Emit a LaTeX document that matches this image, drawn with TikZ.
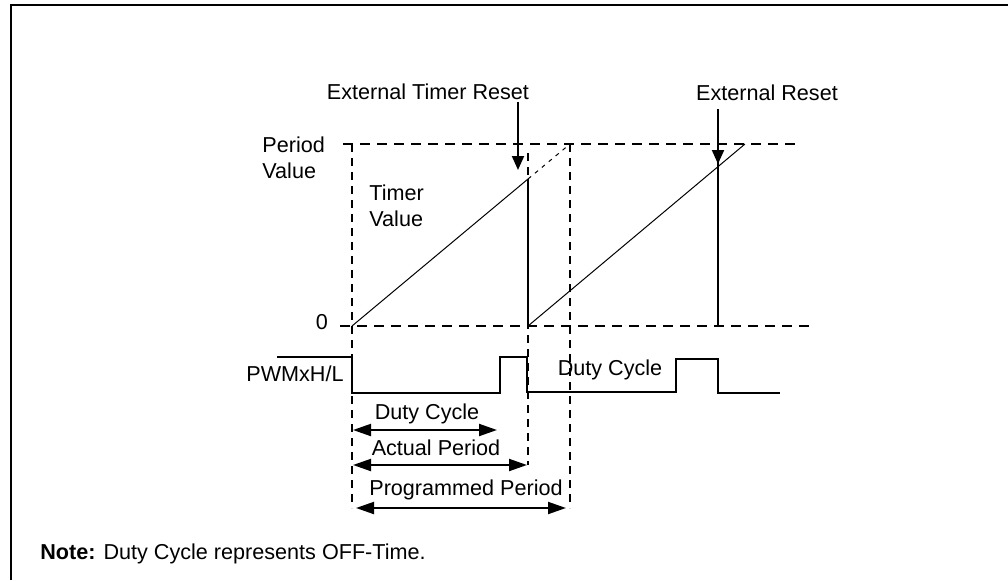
\documentclass[tikz,border=0pt]{standalone}
\usepackage{fontspec}
\setmainfont{Liberation Sans}
\usetikzlibrary{arrows.meta}

\begin{document}
\begin{tikzpicture}[x=0.5pt, y=-0.5pt,
  lbl/.style={inner sep=0pt, font=\fontsize{10.8}{13.2}\selectfont, align=left},
  levelline/.style={line width=1pt, dash pattern=on 5pt off 3.5pt},
  guide/.style={line width=1pt, dash pattern=on 4pt off 3pt},
  ramp/.style={line width=0.5pt},
  sig/.style={line width=1pt},
  arrow/.style={-{Triangle[length=7pt, width=6pt]}, line width=1pt},
  dimarrow/.style={{Triangle[length=9pt, width=6pt]}-{Triangle[length=9pt, width=6pt]}, line width=1pt},
]
  \useasboundingbox (0,0) rectangle (1008,580);
  \draw[line width=1pt] (11,580) -- (11,5) -- (1008,5);

  \coordinate (z0)   at (352,326);
  \coordinate (cut1) at (528,179);
  \coordinate (top1) at (570,144);
  \coordinate (z1)   at (528,326);
  \coordinate (top2) at (745,144);

  \node[lbl] (extTmr) at (428,92) {External Timer Reset};
  \node[lbl] (extRst) at (767,93) {External Reset};
  \node[lbl, anchor=west] (perVal) at (262,158) {Period\\Value};
  \node[lbl, anchor=west] (tmrVal) at (369,206) {Timer\\Value};
  \node[lbl] (zero) at (322,322) {0};
  \node[lbl, anchor=east] (pwm) at (344,374) {PWMxH/L};
  \node[lbl] (dcRight) at (610,370) {Duty Cycle};
  \node[lbl] (dcLbl) at (427,414) {Duty Cycle};
  \node[lbl] (actLbl) at (436,448) {Actual Period};
  \node[lbl] (prgLbl) at (466,490) {Programmed Period};
  \node[lbl, anchor=west] (note) at (40,554) {\textbf{Note:} Duty Cycle represents OFF-Time.};

  \draw[levelline] (343,144) -- (795,144);
  \draw[levelline] (340,326) -- (810,326);
  \draw[guide] (352,144) -- (352,508);
  \draw[guide] (528,153) -- (528,465);
  \draw[guide] (570,144) -- (570,508);

  \draw[ramp] (z0) -- (cut1);
  \draw[ramp, dash pattern=on 2pt off 2.5pt] (cut1) -- (top1);
  \draw[sig] (cut1) -- (z1);
  \draw[ramp] (z1) -- (top2);

  \draw[arrow] (518,102) -- (518,170);
  \draw[sig] (718,109) -- (718,326);
  \draw[arrow] (718,109) -- (718,164);

  \draw[sig] (277,357) -- (352,357) -- (352,393) -- (500,393) -- (500,357)
    -- (527,357) -- (527,392) -- (676,392) -- (676,359) -- (718,359)
    -- (718,393) -- (780,393);

  \draw[dimarrow] (353,430) -- (497,430);
  \draw[dimarrow] (353,465) -- (527,465);
  \draw[dimarrow] (356,508) -- (566,508);
\end{tikzpicture}
\end{document}
